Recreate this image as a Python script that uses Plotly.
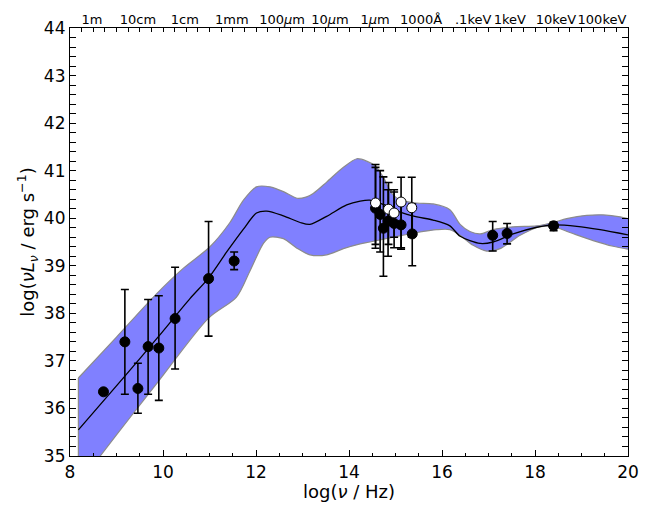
import plotly.graph_objects as go

# ---- model band and curve ----
upper_x = [8.18, 9.0, 9.86, 10.44, 11.01, 11.44, 11.73, 12.01, 12.30, 12.59, 12.88, 13.09, 13.23, 13.52,
           13.88, 14.17, 14.38, 14.56, 14.74, 14.92, 15.10, 15.46, 15.81, 16.17, 16.39, 16.60, 16.82,
           17.10, 17.53, 18.04, 18.39, 18.68, 19.11, 19.47, 19.83, 20.0]
upper_y = [36.64, 37.50, 38.41, 38.95, 39.40, 39.91, 40.38, 40.66, 40.66, 40.56, 40.42, 40.45, 40.52, 40.76,
           41.07, 41.25, 41.20, 41.10, 40.86, 40.52, 40.38, 40.32, 40.30, 40.18, 39.87, 39.72, 39.67,
           39.76, 39.82, 39.84, 39.91, 39.99, 40.06, 40.07, 40.03, 39.99]
lower_x = [8.18, 8.65, 9.30, 9.91, 10.98, 11.58, 11.87, 12.16, 12.30, 12.59, 12.88, 13.16, 13.52, 13.88,
           14.24, 14.45, 14.95, 15.46, 15.89, 16.17, 16.39, 16.67, 16.96, 17.25, 17.68, 18.11, 18.40,
           18.75, 19.25, 19.68, 20.0]
lower_y = [34.40, 35.00, 35.82, 36.58, 37.90, 38.34, 38.89, 39.47, 39.60, 39.57, 39.37, 39.23, 39.23, 39.36,
           39.46, 39.50, 39.60, 39.70, 39.76, 39.76, 39.64, 39.43, 39.31, 39.36, 39.64, 39.82, 39.82,
           39.70, 39.53, 39.41, 39.35]
model_x = [8.18, 9.18, 9.91, 10.58, 10.97, 11.37, 11.73, 12.01, 12.23, 12.59, 12.95, 13.16, 13.52, 13.95,
           14.24, 14.45, 14.74, 15.10, 15.46, 15.81, 16.17, 16.39, 16.82, 17.10, 17.53, 18.04, 18.39,
           18.90, 19.40, 20.0]
model_y = [35.55, 36.68, 37.52, 38.31, 38.73, 39.29, 39.77, 40.11, 40.15, 40.05, 39.91, 39.87, 40.04, 40.28,
           40.36, 40.38, 40.29, 40.13, 40.03, 39.96, 39.84, 39.62, 39.47, 39.50, 39.67, 39.81, 39.86,
           39.83, 39.76, 39.65]

# ---- filled data points ----
fill_x  = [8.72, 9.18, 9.46, 9.68, 9.91, 10.26, 10.98, 11.53,
           14.57, 14.67, 14.74, 14.84, 14.97, 15.12, 15.36,
           17.09, 17.40, 18.40]
fill_y  = [36.35, 37.40, 36.42, 37.30, 37.27, 37.89, 38.73, 39.10,
           40.21, 40.08, 39.79, 39.94, 39.89, 39.86, 39.67,
           39.64, 39.68, 39.84]
fill_hi = [36.35, 38.50, 36.95, 38.29, 38.37, 38.97, 39.93, 39.29,
           41.07, 41.00, 40.87, 40.60, 40.60, 40.40, 40.30,
           39.93, 39.89, 39.92]
fill_lo = [36.35, 36.30, 35.90, 36.30, 36.17, 36.83, 37.52, 38.92,
           39.37, 39.29, 38.78, 39.20, 39.38, 39.35, 39.00,
           39.31, 39.46, 39.74]

# ---- open data points ----
open_x  = [14.57, 14.85, 14.97, 15.12, 15.35]
open_y  = [40.32, 40.19, 40.11, 40.34, 40.22]
open_hi = [41.13, 40.75, 40.55, 40.86, 40.86]
open_lo = [39.45, 39.45, 39.60, 39.38, 39.60]

# ---- top axis labels ----
top_pos    = [8.47, 9.46, 10.47, 11.48, 12.56, 13.59, 14.56, 15.55, 16.67, 17.46, 18.45, 19.44]
top_labels = ["1m", "10cm", "1cm", "1mm", "100<i>μ</i>m", "10<i>μ</i>m", "1<i>μ</i>m",
              "1000Å", ".1keV", "1keV", "10keV", "100keV"]

FONT = "DejaVu Sans"
EDGE = "#8c8c8c"

fig = go.Figure()
fig.add_trace(go.Scatter(x=lower_x, y=lower_y, mode="lines",
                         line=dict(color=EDGE, width=1.2, shape="spline", smoothing=0.8),
                         showlegend=False, hoverinfo="skip"))
fig.add_trace(go.Scatter(x=upper_x, y=upper_y, mode="lines", fill="tonexty", fillcolor="#8080ff",
                         line=dict(color=EDGE, width=1.2, shape="spline", smoothing=0.8),
                         showlegend=False, hoverinfo="skip"))
fig.add_trace(go.Scatter(x=[lower_x[0], upper_x[0]], y=[lower_y[0], upper_y[0]], mode="lines",
                         line=dict(color=EDGE, width=1.2), showlegend=False, hoverinfo="skip"))
fig.add_trace(go.Scatter(x=model_x, y=model_y, mode="lines",
                         line=dict(color="black", width=1.3, shape="spline", smoothing=0.8),
                         showlegend=False))

def err(hi, lo, y):
    return dict(type="data", symmetric=False,
                array=[h - v for h, v in zip(hi, y)],
                arrayminus=[v - l for l, v in zip(lo, y)],
                color="black", thickness=1.6, width=4)

fig.add_trace(go.Scatter(x=fill_x, y=fill_y, mode="markers",
                         marker=dict(color="black", size=10, line=dict(color="black", width=1)),
                         error_y=err(fill_hi, fill_lo, fill_y), showlegend=False))
fig.add_trace(go.Scatter(x=open_x, y=open_y, mode="markers",
                         marker=dict(color="white", size=10, line=dict(color="black", width=1)),
                         error_y=err(open_hi, open_lo, open_y), showlegend=False))

# invisible traces to anchor the top axes
fig.add_trace(go.Scatter(x=[8, 20], y=[35, 35], xaxis="x2", mode="markers",
                         marker=dict(opacity=0), showlegend=False, hoverinfo="skip"))
fig.add_trace(go.Scatter(x=[8, 20], y=[35, 35], xaxis="x3", mode="markers",
                         marker=dict(opacity=0), showlegend=False, hoverinfo="skip"))

fig.update_layout(
    width=664, height=506,
    margin=dict(l=70, r=36, t=20, b=46),
    paper_bgcolor="white", plot_bgcolor="white",
    font=dict(family=FONT, size=17, color="black"),
    xaxis=dict(range=[8, 20], dtick=2, tick0=8, ticks="inside", ticklen=6, tickwidth=1,
               tickcolor="black", showgrid=False, zeroline=False,
               showline=True, linecolor="black", linewidth=1.2, mirror=True,
               minor=dict(dtick=0.5, ticks="inside", ticklen=3, tickcolor="black"),
               tickfont=dict(size=17),
               title=dict(text="log(<i>ν</i> / Hz)", font=dict(size=18), standoff=0)),
    yaxis=dict(range=[35, 44], dtick=1, ticks="inside", ticklen=6, tickwidth=1,
               tickcolor="black", showgrid=False, zeroline=False,
               showline=True, linecolor="black", linewidth=1.2, mirror="allticks",
               minor=dict(dtick=0.2, ticks="inside", ticklen=3, tickcolor="black"),
               tickfont=dict(size=17),
               title=dict(text="log(<i>νL</i><sub><i>ν</i></sub> / erg s<sup>−1</sup>)",
                          font=dict(size=18), standoff=4)),
    xaxis2=dict(overlaying="x", side="top", range=[8, 20], tickmode="array",
                tickvals=top_pos, ticktext=top_labels, ticks="", tickangle=0, showgrid=False,
                zeroline=False, showline=False, tickfont=dict(size=13)),
    xaxis3=dict(overlaying="x", side="top", range=[8, 20], dtick=0.25, tick0=8,
                ticks="inside", ticklen=4, tickwidth=1, tickcolor="black", showticklabels=False,
                showgrid=False, zeroline=False, showline=True, linecolor="black", linewidth=1.2),
)

fig.write_html("out.html")
